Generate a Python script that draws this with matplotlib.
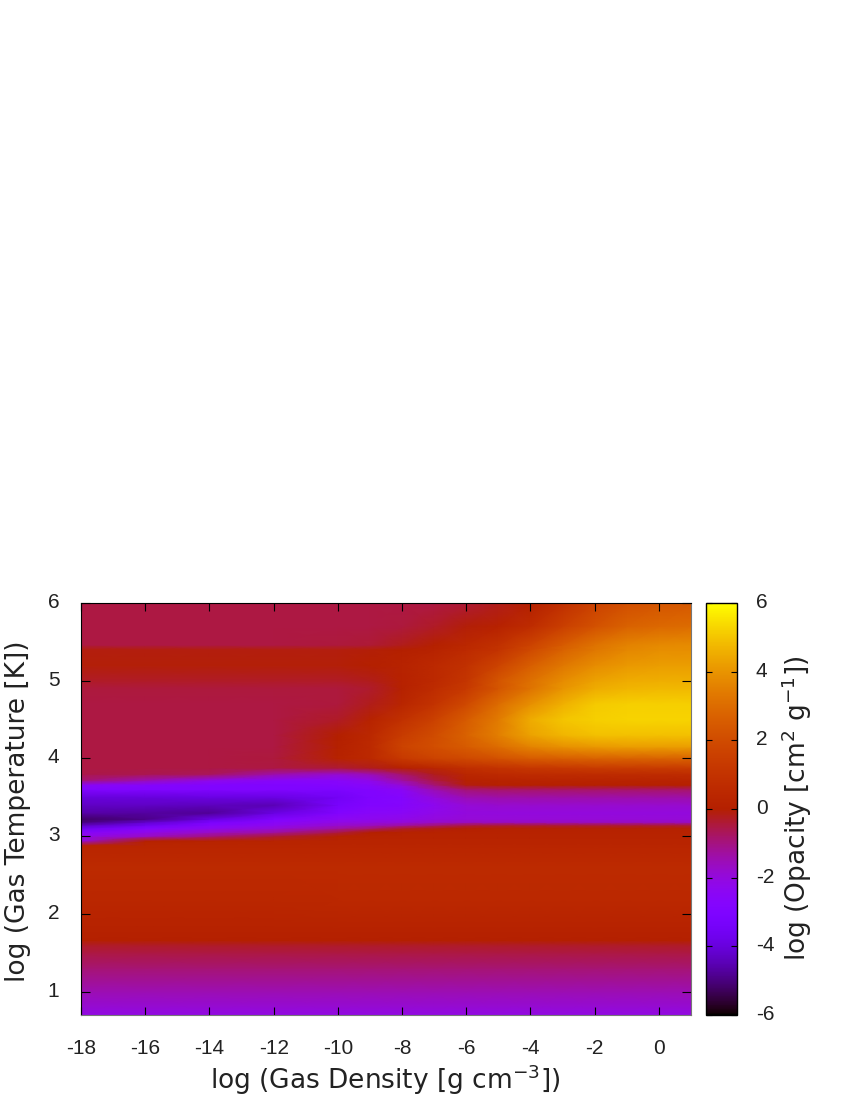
import matplotlib
matplotlib.use('Agg')
import matplotlib.pyplot as plt
from matplotlib.colors import ListedColormap
from matplotlib.transforms import ScaledTranslation
import numpy as np

# values, log opacity on a density/temperature grid
log_rho = [-18, -16, -14, -12, -10, -9, -8, -7, -6, -5, -4, -3, -2, -1, 0, 1]
log_T = [0.7, 1.0, 1.3, 1.5, 1.6, 1.66, 1.8, 2.2, 2.6, 2.88, 2.94, 3.0, 3.05, 3.1, 3.14, 3.18,
         3.22, 3.3, 3.4, 3.5, 3.6, 3.66, 3.72, 3.8, 3.88, 4.0, 4.15, 4.3, 4.5, 4.7,
         4.9, 5.0, 5.2, 5.4, 5.46, 5.7, 6.0]
opacity = [
    [-2.1] * 16,
    [-1.5] * 16,
    [-0.9] * 16,
    [-0.5] * 16,
    [-0.3] * 16,
    [0.0] * 16,
    [0.12] * 16,
    [0.4, 0.4, 0.4, 0.4, 0.45, 0.45, 0.45, 0.45, 0.45, 0.45, 0.45, 0.45, 0.45, 0.45, 0.45, 0.45],
    [0.55] * 16,
    [0.3] * 16,
    [-1.9, 0.1, 0.2, 0.25, 0.25, 0.25, 0.25, 0.25, 0.25, 0.25, 0.25, 0.25, 0.25, 0.25, 0.25, 0.25],
    [-2.2, -1.7, -1.0, -0.4, 0.1, 0.2, 0.2, 0.2, 0.2, 0.2, 0.2, 0.2, 0.2, 0.2, 0.2, 0.2],
    [-2.7, -2.2, -1.7, -1.3, -0.5, 0.0, 0.1, 0.15, 0.15, 0.15, 0.15, 0.15, 0.15, 0.15, 0.15, 0.15],
    [-3.6, -2.8, -2.3, -1.9, -1.3, -0.9, -0.3, -0.1, 0.0, 0.1, 0.1, 0.1, 0.1, 0.1, 0.1, 0.1],
    [-4.3, -3.6, -2.7, -2.3, -1.8, -1.6, -1.3, -0.9, -0.5, -0.4, -0.4, -0.4, -0.4, -0.4, -0.4, -0.4],
    [-5.0, -4.2, -3.2, -2.6, -2.1, -2.0, -1.9, -1.7, -1.6, -1.6, -1.6, -1.6, -1.6, -1.6, -1.6, -1.6],
    [-5.2, -4.9, -3.9, -3.0, -2.4, -2.3, -2.2, -2.0, -1.9, -1.9, -1.9, -1.9, -1.9, -1.9, -1.9, -1.9],
    [-4.6, -4.7, -4.8, -3.9, -2.9, -2.6, -2.5, -2.2, -2.0, -2.0, -2.0, -2.0, -2.0, -2.0, -2.0, -2.0],
    [-4.3, -4.3, -4.4, -4.5, -3.3, -2.9, -2.7, -2.3, -1.9, -1.8, -1.8, -1.8, -1.8, -1.8, -1.8, -1.8],
    [-4.0, -4.0, -3.9, -3.9, -3.5, -3.0, -2.8, -2.0, -1.5, -1.4, -1.4, -1.4, -1.4, -1.4, -1.4, -1.4],
    [-3.0, -3.0, -3.0, -3.0, -3.1, -2.9, -2.5, -1.5, -0.9, -0.8, -0.8, -0.8, -0.8, -0.8, -0.8, -0.8],
    [-2.5, -2.7, -2.9, -3.0, -2.8, -2.6, -1.9, -0.9, -0.1, 0.05, 0.05, 0.05, 0.05, 0.05, 0.05, 0.05],
    [-0.9, -1.5, -2.2, -2.6, -2.6, -2.2, -1.3, -0.5, 0.1, 0.2, 0.25, 0.25, 0.25, 0.25, 0.25, 0.25],
    [-0.55, -0.6, -0.7, -1.4, -1.8, -1.5, -0.8, -0.2, 0.4, 0.6, 0.7, 0.7, 0.7, 0.7, 0.7, 0.7],
    [-0.5, -0.5, -0.5, -0.5, -0.4, -0.2, 0.1, 0.4, 0.8, 1.0, 1.2, 1.3, 1.4, 1.4, 1.4, 1.4],
    [-0.5, -0.5, -0.5, -0.45, 0.2, 0.5, 1.3, 1.7, 1.9, 2.2, 2.5, 2.6, 2.7, 2.7, 2.7, 2.7],
    [-0.5, -0.5, -0.5, -0.5, 0.05, 0.5, 1.7, 2.1, 2.5, 3.0, 3.6, 3.9, 4.1, 4.2, 4.2, 4.2],
    [-0.5, -0.5, -0.5, -0.5, 0.0, 0.45, 1.4, 2.0, 2.7, 3.5, 4.3, 4.7, 4.9, 4.9, 4.9, 4.9],
    [-0.5, -0.5, -0.5, -0.5, -0.3, 0.2, 0.9, 1.6, 2.5, 3.4, 4.5, 5.0, 5.2, 5.25, 5.25, 5.25],
    [-0.5, -0.5, -0.5, -0.5, -0.45, -0.2, 0.35, 1.0, 1.9, 3.0, 3.9, 4.6, 5.1, 5.2, 5.2, 5.2],
    [-0.45, -0.45, -0.45, -0.45, -0.45, -0.35, 0.1, 0.7, 1.3, 2.3, 3.2, 4.0, 4.5, 4.7, 4.75, 4.75],
    [-0.3, -0.3, -0.3, -0.3, -0.3, -0.2, 0.15, 0.5, 1.1, 2.3, 3.1, 3.8, 4.3, 4.5, 4.55, 4.55],
    [-0.05, -0.05, -0.05, -0.05, -0.05, 0.0, 0.2, 0.5, 0.9, 1.7, 2.6, 3.3, 3.8, 4.1, 4.2, 4.2],
    [-0.1, -0.1, -0.1, -0.1, -0.1, -0.05, 0.0, 0.2, 0.6, 1.0, 1.9, 2.7, 3.3, 3.7, 3.85, 3.85],
    [-0.5, -0.5, -0.5, -0.5, -0.45, -0.4, -0.2, 0.05, 0.45, 0.9, 1.7, 2.5, 3.2, 3.6, 3.75, 3.8],
    [-0.5, -0.5, -0.5, -0.5, -0.5, -0.5, -0.45, -0.3, -0.05, 0.15, 0.7, 1.5, 2.2, 2.7, 2.9, 3.0],
    [-0.5, -0.5, -0.5, -0.5, -0.5, -0.5, -0.5, -0.5, -0.4, -0.2, 0.0, 0.8, 1.6, 2.1, 2.3, 2.4],
]

x_ticks = [-18, -16, -14, -12, -10, -8, -6, -4, -2, 0]
y_ticks = [1, 2, 3, 4, 5, 6]
cb_ticks = [-6, -4, -2, 0, 2, 4, 6]

# gnuplot default pm3d palette (rgbformulae 7,5,15)
s = np.linspace(0, 1, 512)
pm3d = ListedColormap(np.c_[np.sqrt(s), s**3, np.clip(np.sin(2*np.pi*s), 0, 1)])

plt.rcParams['font.family'] = ['Liberation Sans', 'DejaVu Sans']
plt.rcParams['axes.unicode_minus'] = False
plt.rcParams['mathtext.default'] = 'regular'
txt = '#222222'

fig = plt.figure(figsize=(8.5, 11), dpi=100)
W, H = 850.0, 1100.0
ax = fig.add_axes([81/W, 1-1015/H, 610/W, 412/H])
mesh = ax.pcolormesh(log_rho, log_T, np.array(opacity), cmap=pm3d, vmin=-6, vmax=6,
                     shading='gouraud', rasterized=True)
ax.set_xlim(-18, 1)
ax.set_ylim(0.7, 6)
ax.set_xticks(x_ticks)
ax.set_yticks(y_ticks)
ax.tick_params(axis='x', direction='in', top=True, length=6, width=0.8,
               labelsize=15, labelcolor=txt, pad=17)
ax.tick_params(axis='y', direction='in', right=True, length=6.5, width=0.8,
               labelsize=15, labelcolor=txt, pad=15.5)
ax.spines['right'].set_color('#777777')
ax.spines['bottom'].set_color('#777777')

ax.set_xlabel('log (Gas Density [g cm$^{-3}$])', fontsize=19, color=txt,
              family='DejaVu Sans', va='center')
ax.xaxis.set_label_coords(385/W, 1-1080/H, transform=fig.transFigure)
ax.set_ylabel('log (Gas Temperature [K])', fontsize=19, color=txt,
              family='DejaVu Sans', va='center')
ax.yaxis.set_label_coords(18/W, 1-811/H, transform=fig.transFigure)

cax = fig.add_axes([706/W, 1-1015/H, 31/W, 412/H])
cb = fig.colorbar(mesh, cax=cax)
cb.set_ticks(cb_ticks)
cax.tick_params(direction='in', left=True, right=True, length=4.5, width=0.8,
                labelsize=15, labelcolor=txt, pad=13.5)
cb.outline.set_linewidth(1)
cb.set_label('log (Opacity [cm$^{2}$ g$^{-1}$])', fontsize=19, color=txt,
             family='DejaVu Sans', va='center')
cax.yaxis.set_label_coords(797/W, 1-808/H, transform=fig.transFigure)

# tick numbers sit a little above their ticks in the original
nudge = ScaledTranslation(0, 2.5/100, fig.dpi_scale_trans)
for lab in ax.get_yticklabels() + cax.get_yticklabels():
    lab.set_transform(lab.get_transform() + nudge)

fig.savefig('out.png', dpi=100)
